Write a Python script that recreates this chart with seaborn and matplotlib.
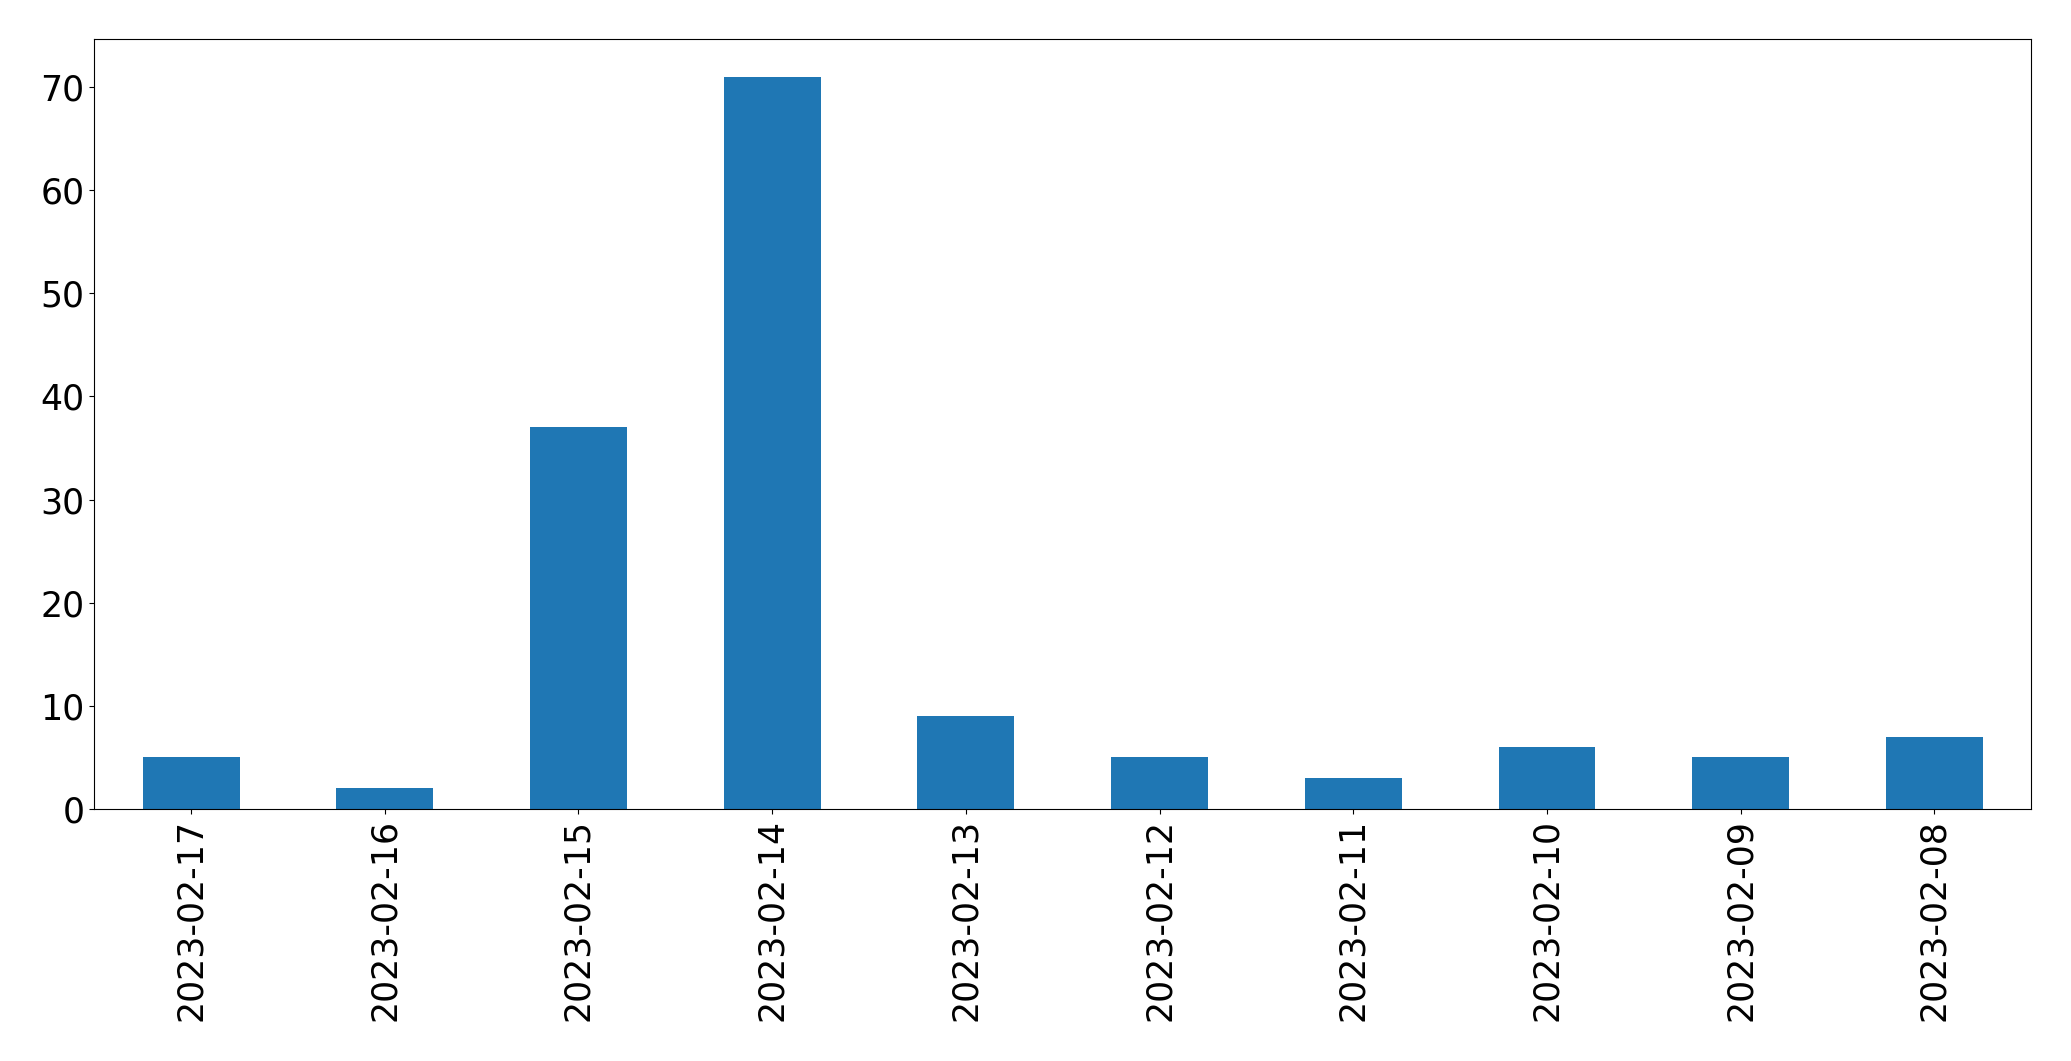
import matplotlib
matplotlib.use("Agg")
import matplotlib.pyplot as plt
import seaborn as sns
import pandas as pd

# Daily counts, newest first
dates = ['2023-02-17', '2023-02-16', '2023-02-15', '2023-02-14', '2023-02-13',
         '2023-02-12', '2023-02-11', '2023-02-10', '2023-02-09', '2023-02-08']
counts = [5, 2, 37, 71, 9, 5, 3, 6, 5, 7]

df = pd.DataFrame({'date': dates, 'count': counts})

fig = plt.figure(figsize=(20.71, 10.61), dpi=100)
ax = fig.add_axes([0.0455, 0.2375, 0.9353, 0.7254])

sns.barplot(data=df, x='date', y='count', order=dates, color='#1f77b4',
            saturation=1, width=0.5, ax=ax)

ax.set_xlim(-0.5, len(dates) - 0.5)
ax.set_ylim(0, 74.6)
ax.set_xlabel('')
ax.set_ylabel('')
ax.tick_params(axis='x', labelrotation=90, labelsize=25)
ax.tick_params(axis='y', labelsize=25)

fig.savefig('out.png', dpi=100)
